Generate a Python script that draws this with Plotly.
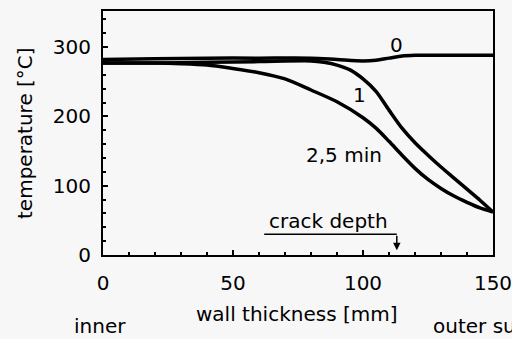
import plotly.graph_objects as go

# Wall position (mm, from inner surface) and temperature (°C) at three times
x_t0 = [0, 20, 40, 60, 80, 90, 100, 105, 110, 115, 120, 130, 140, 150]
temp_t0 = [282, 283, 284, 284, 284, 282, 280, 281, 284, 287, 288, 288, 288, 288]

x_t1 = [0, 20, 40, 60, 80, 85, 90, 95, 100, 105, 110, 115, 120, 125, 130, 135, 140, 145, 150]
temp_t1 = [277, 277, 278, 279, 280, 278, 274, 267, 254, 236, 209, 183, 162, 144, 127, 111, 95, 79, 62]

x_t25 = [0, 20, 30, 40, 50, 60, 70, 80, 90, 100, 105, 110, 115, 120, 125, 130, 135, 140, 145, 150]
temp_t25 = [277, 277, 276, 274, 269, 263, 254, 238, 221, 198, 183, 164, 144, 125, 109, 96, 85, 76, 68, 62]

curve_labels = ["0", "1", "2,5 min"]
label_x = [113, 98.8, 92.7]
label_y = [303, 231, 144]

crack_depth = 113
crack_line_start = 62

x_ticks = [0, 50, 100, 150]
y_ticks = [0, 100, 200, 300]

FONT = "DejaVu Sans"
BG = "#f7f7f7"

fig = go.Figure()
for xs, ys in [(x_t0, temp_t0), (x_t1, temp_t1), (x_t25, temp_t25)]:
    fig.add_trace(go.Scatter(
        x=xs, y=ys, mode="lines",
        line=dict(color="black", width=3.5, shape="spline", smoothing=0.8),
        showlegend=False, hoverinfo="skip", cliponaxis=False,
    ))

annotations = []
for txt, lx, ly in zip(curve_labels, label_x, label_y):
    annotations.append(dict(x=lx, y=ly, xref="x", yref="y", text=txt, showarrow=False,
                            font=dict(family=FONT, size=20, color="black")))

# crack depth marker
annotations.append(dict(x=86.7, y=49, xref="x", yref="y", text="crack depth", showarrow=False,
                        font=dict(family=FONT, size=20, color="black")))
annotations.append(dict(x=crack_depth, y=7, xref="x", yref="y", ax=crack_depth, ay=30,
                        axref="x", ayref="y", text="", showarrow=True,
                        arrowhead=2, arrowsize=1, arrowwidth=1.5, arrowcolor="black"))

# axis titles and surface labels
annotations += [
    dict(x=-0.2, y=0.5, xref="paper", yref="paper", text="temperature [°C]", textangle=-90,
         xanchor="center", yanchor="middle",
         showarrow=False, font=dict(family=FONT, size=20, color="black")),
    dict(x=0.495, y=-0.242, xref="paper", yref="paper", text="wall thickness [mm]",
         xanchor="center", yanchor="middle",
         showarrow=False, font=dict(family=FONT, size=20, color="black")),
    dict(x=-0.008, y=-0.291, xref="paper", yref="paper", text="inner",
         xanchor="center", yanchor="middle",
         showarrow=False, font=dict(family=FONT, size=20, color="black")),
    dict(x=0.841, y=-0.291, xref="paper", yref="paper", text="outer surface",
         xanchor="left", yanchor="middle",
         showarrow=False, font=dict(family=FONT, size=20, color="black")),
]

fig.add_shape(type="line", x0=crack_line_start, x1=crack_depth, y0=30, y1=30,
              xref="x", yref="y", line=dict(color="black", width=1.5))

axis_common = dict(
    showgrid=False, zeroline=False, showline=True, linecolor="black", linewidth=2,
    mirror=True, ticks="inside", ticklen=5, tickwidth=1.5, tickcolor="black",
    tickfont=dict(family=FONT, size=20, color="black"), ticklabeloverflow="allow",
    automargin=False,
)

fig.update_xaxes(range=[0, 150], tickvals=x_ticks, ticklabelstandoff=9,
                 minor=dict(dtick=10, ticks="inside", ticklen=3, tickcolor="black"),
                 **axis_common)
fig.update_yaxes(range=[0, 352], tickvals=y_ticks, ticklabelstandoff=6,
                 minor=dict(dtick=20, ticks="inside", ticklen=3, tickcolor="black"),
                 **axis_common)

fig.update_layout(
    width=512, height=339,
    margin=dict(l=103, r=19, t=11, b=84, autoexpand=False),
    paper_bgcolor=BG, plot_bgcolor=BG,
    annotations=annotations,
    font=dict(family=FONT, color="black"),
)

fig.write_html("out.html")
